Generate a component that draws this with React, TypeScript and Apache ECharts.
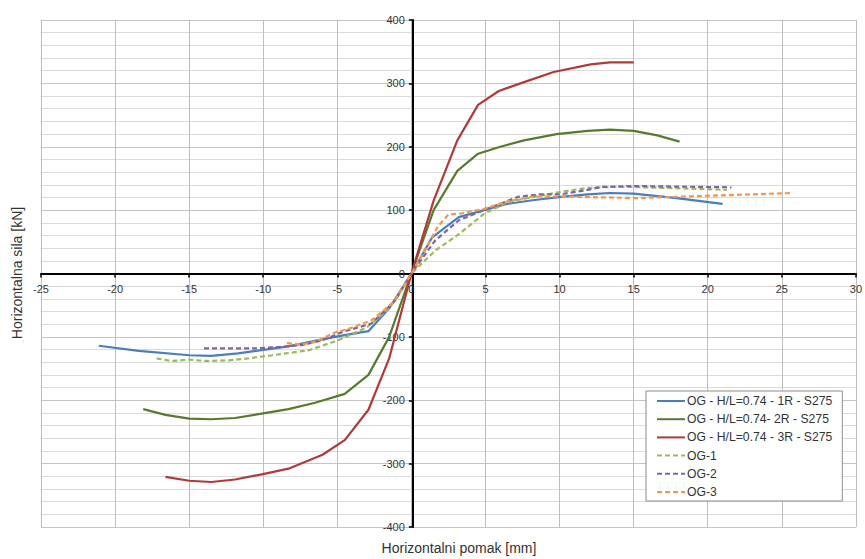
import React, { useEffect, useRef } from "react";
import * as echarts from "echarts";

const seriesNames = [
  "OG - H/L=0.74 - 1R - S275",
  "OG - H/L=0.74- 2R - S275",
  "OG - H/L=0.74 - 3R - S275",
  "OG-1",
  "OG-2",
  "OG-3",
];

const xTickValues = [-25, -20, -15, -10, -5, 0, 5, 10, 15, 20, 25, 30];
const yTickValues = [-400, -300, -200, -100, 0, 100, 200, 300, 400];

const data1R: [number, number][] = [
  [-21.1, -114], [-18.4, -122], [-15.0, -129], [-13.5, -130], [-11.7, -126], [-10.1, -121],
  [-8.3, -115], [-6.0, -104], [-4.7, -98], [-2.9, -91], [-1.5, -55], [0, 0], [1.4, 57],
  [3.2, 89], [4.9, 100], [6.5, 110], [8.3, 116], [10.1, 121], [11.9, 125], [13.4, 127],
  [15, 126], [17.9, 119], [21.0, 110],
];

const data2R: [number, number][] = [
  [-18.1, -214], [-16.6, -223], [-15.0, -229], [-13.5, -230], [-11.9, -228], [-10.1, -221],
  [-8.3, -214], [-6.5, -204], [-4.5, -190], [-2.9, -160], [-1.5, -100], [0, 0], [1.5, 100],
  [3.1, 162], [4.5, 189], [6.0, 200], [7.6, 210], [9.8, 220], [11.9, 225], [13.4, 227],
  [15, 225], [16.6, 218], [18.1, 208],
];

const data3R: [number, number][] = [
  [-16.6, -321], [-15.0, -327], [-13.5, -329], [-11.9, -325], [-10.1, -317], [-8.3, -308],
  [-6.0, -286], [-4.5, -263], [-2.9, -215], [-1.5, -134], [0, 0], [1.5, 115], [3.1, 210],
  [4.5, 266], [5.9, 288], [7.6, 302], [9.6, 318], [12.1, 330], [13.4, 333], [15, 333],
];

const dataOG1: [number, number][] = [
  [-17.2, -134], [-16.2, -138], [-15.0, -136], [-13.9, -138], [-12.3, -137], [-11.0, -134],
  [-9.4, -129], [-6.9, -121], [-4.9, -105], [-3.0, -85], [-1.5, -55], [0, 0], [1.6, 36],
  [3.2, 62], [4.9, 94], [6.5, 113], [8.3, 121], [10.1, 129], [11.9, 135], [13.4, 136.5],
  [15, 136.5], [21.3, 132],
];

const dataOG2: [number, number][] = [
  [-14.0, -118], [-10.5, -118], [-9.2, -116.5], [-7.4, -113], [-6.0, -105.5], [-4.7, -92.5],
  [-2.7, -79], [-1.1, -43], [0, 0], [1.6, 52], [3.2, 84], [4.9, 100], [7.2, 121], [8.7, 125],
  [10.1, 125], [11.9, 132], [12.8, 136.5], [15, 138], [21.6, 136],
];

const dataOG3: [number, number][] = [
  [-8.4, -110], [-7.4, -112], [-6.5, -108], [-5.1, -92.5], [-4.2, -87], [-2.7, -74],
  [-1.1, -43], [0, 0], [1.0, 40], [1.8, 75], [2.5, 93], [3.4, 95], [4.9, 102], [6.5, 114],
  [8.3, 121.5], [10.1, 121.5], [11.9, 120.5], [13.4, 120], [15.2, 119], [25.7, 127],
];

const seriesData = [data1R, data2R, data3R, dataOG1, dataOG2, dataOG3];
const colors = ["#4A7EBB", "#577A2E", "#B03A3A", "#9BBB59", "#8064A2", "#F79646"];
const dashed = [false, false, false, true, true, true];

const FONT = "'Liberation Sans', Arial, sans-serif";

const W = 865;
const H = 559;
const GRID = { left: 41, right: 6, top: 20, bottom: 32 };

export default function App() {
  const ref = useRef<HTMLDivElement>(null);
  useEffect(() => {
    if (!ref.current) return;
    const chart = echarts.init(ref.current, null, { renderer: "svg" });
    const xMin = xTickValues[0];
    const xMax = xTickValues[xTickValues.length - 1];
    const yMin = yTickValues[0];
    const yMax = yTickValues[yTickValues.length - 1];
    const gridW = W - GRID.left - GRID.right;
    const gridH = H - GRID.top - GRID.bottom;
    // move axes (line, ticks, labels) so they cross at zero
    const xAxisOffset = -gridH * ((0 - yMin) / (yMax - yMin));
    const yAxisOffset = -gridW * ((0 - xMin) / (xMax - xMin));
    chart.setOption({
      animation: false,
      backgroundColor: "#ffffff",
      textStyle: { fontFamily: FONT },
      grid: { ...GRID, containLabel: false },
      xAxis: {
        type: "value",
        position: "bottom",
        offset: xAxisOffset,
        min: xMin,
        max: xMax,
        interval: 5,
        axisLine: { onZero: false, lineStyle: { color: "#000", width: 2 } },
        axisTick: { show: true, length: 4, lineStyle: { color: "#000", width: 1.5 } },
        axisLabel: { color: "#333", fontSize: 11, margin: 10, fontFamily: FONT },
        splitLine: { show: true, lineStyle: { color: "#BDBDBD", width: 1 } },
      },
      yAxis: {
        type: "value",
        position: "left",
        offset: yAxisOffset,
        min: yMin,
        max: yMax,
        interval: 100,
        axisLine: { onZero: false, lineStyle: { color: "#000", width: 2 } },
        axisTick: { show: true, length: 4, lineStyle: { color: "#000", width: 1.5 } },
        axisLabel: { color: "#333", fontSize: 11, margin: 8, fontFamily: FONT },
        splitLine: { show: true, lineStyle: { color: "#C4C4C4", width: 1 } },
        minorTick: { show: false, splitNumber: 5 },
        minorSplitLine: { show: true, lineStyle: { color: "#DADADA", width: 1 } },
      },
      legend: {
        orient: "vertical",
        left: 646,
        top: 391,
        backgroundColor: "#ffffff",
        borderColor: "#8C8C8C",
        borderWidth: 1,
        padding: [3, 10, 2, 10],
        itemWidth: 28,
        itemHeight: 14,
        itemGap: 4.2,
        itemStyle: { opacity: 0, borderWidth: 0 },
        textStyle: { color: "#333", fontSize: 12.2, fontFamily: FONT, lineHeight: 14, padding: [0, 0, 0, -3] },
        data: seriesNames.map((n) => ({ name: n })),
      },
      graphic: [
        {
          type: "text",
          x: 459,
          y: 548,
          style: {
            text: "Horizontalni pomak [mm]",
            fontSize: 14,
            fontFamily: FONT,
            fill: "#333",
            align: "center",
            verticalAlign: "middle",
          },
        },
        {
          type: "text",
          x: 17,
          y: 273,
          rotation: Math.PI / 2,
          style: {
            text: "Horizontalna sila [kN]",
            fontSize: 14,
            fontFamily: FONT,
            fill: "#333",
            align: "center",
            verticalAlign: "middle",
          },
        },
      ],
      series: seriesNames.map((name, i) => ({
        name,
        type: "line",
        data: seriesData[i],
        showSymbol: false,
        symbol: "none",
        smooth: false,
        color: colors[i],
        lineStyle: {
          color: colors[i],
          width: 2.2,
          type: dashed[i] ? [5, 3] : "solid",
        },
        z: 3 + (dashed[i] ? 1 : 0),
      })),
    });
    return () => chart.dispose();
  }, []);
  return (
    <div
      ref={ref}
      style={{ position: "fixed", left: 0, top: 0, width: W, height: H }}
    />
  );
}
